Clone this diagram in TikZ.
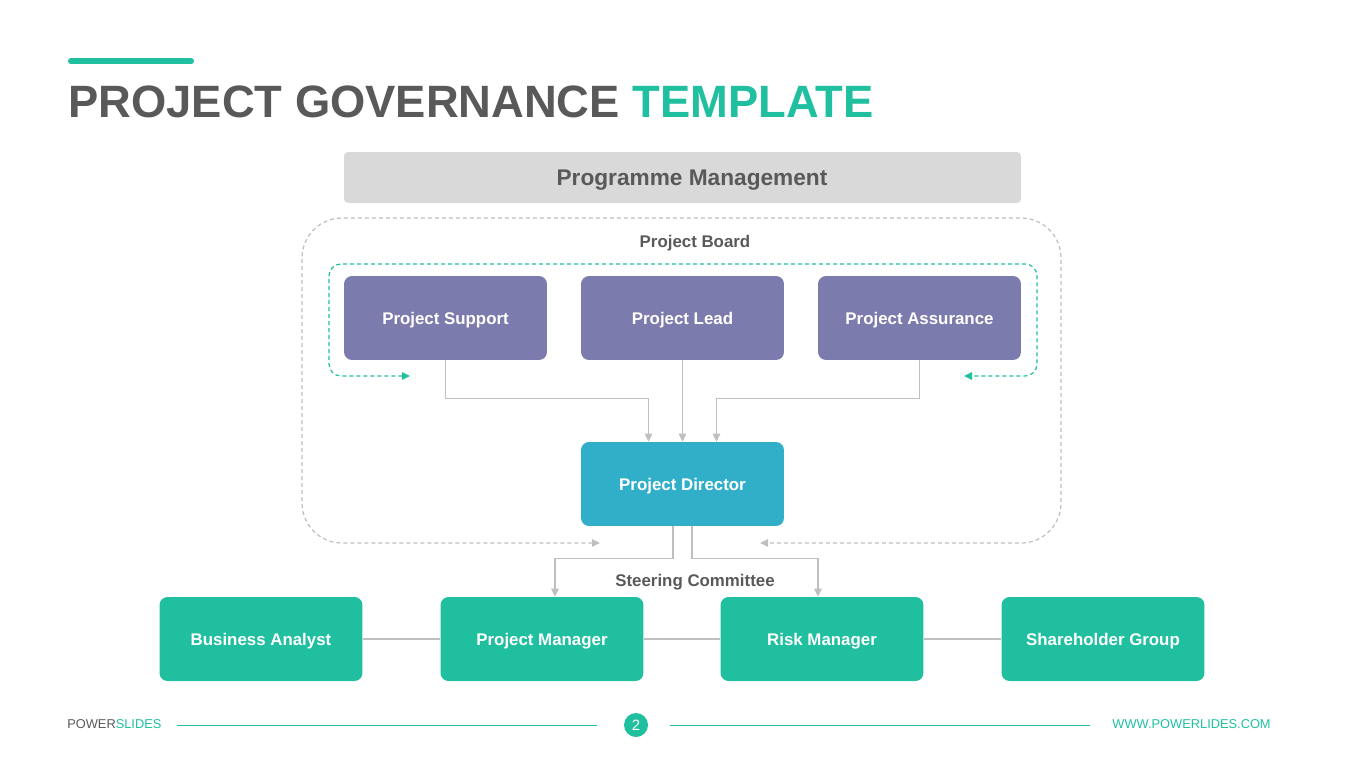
\documentclass[tikz,border=0pt]{standalone}
\usepackage{fontspec}
\setmainfont{Liberation Sans}
\usepackage{xcolor}
\definecolor{pgteal}{RGB}{31,191,160}
\definecolor{pgpurple}{RGB}{123,123,173}
\definecolor{pgblue}{RGB}{49,174,200}
\definecolor{pgdark}{RGB}{89,89,89}
\definecolor{pglight}{RGB}{217,217,217}
\definecolor{pgline}{RGB}{191,191,191}
\usetikzlibrary{arrows.meta,positioning,calc}

\begin{document}
\begin{tikzpicture}[x=0.02cm,y=-0.02cm,
  box/.style={rounded corners=0.16cm,minimum width=4.06cm,minimum height=1.68cm,inner sep=0,text height=0.78em,text depth=0pt,text=white,font=\fontsize{9.6}{11}\selectfont\bfseries},
  role/.style={box,fill=pgpurple},
  member/.style={box,fill=pgteal},
  grouptitle/.style={text=pgdark,font=\fontsize{9.6}{11}\selectfont\bfseries,inner sep=0,text height=0.72em,text depth=0pt},
  link/.style={pgline,line width=0.7pt},
  feed/.style={link,-{Triangle[length=0.16cm,width=0.15cm]}},
  loopline/.style={dash pattern=on 0.08cm off 0.06cm,line width=0.7pt,{Triangle[length=0.16cm,width=0.15cm]}-{Triangle[length=0.16cm,width=0.15cm]}}]
  \useasboundingbox (0,0) rectangle (1365,767);
  % Title
  \draw[pgteal,line width=0.12cm,line cap=round] (71,61) -- (191,61);
  \node[anchor=base west,inner sep=0,font=\fontsize{25.8}{30}\selectfont\bfseries,text=pgdark] (title) at (68,117) {PROJECT GOVERNANCE \textcolor{pgteal}{TEMPLATE}};
  \node[fill=pglight,rounded corners=0.08cm,minimum width=13.54cm,minimum height=1.02cm,inner sep=0] (prog) at (682.5,177.5) {};
  \node[inner sep=0,text height=0.72em,text depth=0pt,text=pgdark,font=\fontsize{12.9}{15}\selectfont\bfseries] (progtext) at (692,179) {Programme Management};
  % Project board
  \draw[loopline,pgline,rounded corners=0.8cm] (600,543) -| (302,218) -| (1061,543) -- (760,543);
  \node[grouptitle] (board) at (695,241) {Project Board};
  \draw[loopline,pgteal,rounded corners=0.24cm] (410,376) -| (329,264) -| (1037,376) -- (964,376);
  \node[role] (sup) at (445.5,318) {Project Support};
  \node[role] (lead) at (682.5,318) {Project Lead};
  \node[role] (asr) at (919.5,318) {Project Assurance};
  \node[box,fill=pgblue] (dir) at (682.5,484) {Project Director};
  \draw[feed] (sup.south) -- ++(0,38) -| ([xshift=-0.68cm]dir.north);
  \draw[feed] (lead.south) -- (dir.north);
  \draw[feed] (asr.south) -- ++(0,38) -| ([xshift=0.68cm]dir.north);
  % Steering committee
  \node[grouptitle] (steer) at (695,580) {Steering Committee};
  \node[member] (ba) at (261,639) {Business Analyst};
  \node[member] (pm) at (542,639) {Project Manager};
  \node[member] (rm) at (822,639) {Risk Manager};
  \node[member] (sh) at (1103,639) {Shareholder Group};
  \draw[feed] ([xshift=-0.19cm]dir.south) -- ++(0,32) -| ([xshift=0.26cm]pm.north);
  \draw[feed] ([xshift=0.19cm]dir.south) -- ++(0,32) -| ([xshift=-0.08cm]rm.north);
  \draw[link] (ba) -- (pm);
  \draw[link] (pm) -- (rm);
  \draw[link] (rm) -- (sh);
  % Footer
  \node[anchor=base west,inner sep=0,font=\fontsize{7.3}{9}\selectfont,text=pgdark] (brand) at (67,728) {POWER\textcolor{pgteal}{SLIDES}};
  \node[circle,fill=pgteal,minimum size=0.48cm,inner sep=0,text=white,font=\fontsize{8.5}{10}\selectfont] (page) at (636,725) {2};
  \node[anchor=base east,inner sep=0,font=\fontsize{7.3}{9}\selectfont,text=pgteal] (web) at (1271,728) {WWW.POWERLIDES.COM};
  \draw[pgteal,line width=0.5pt] ([xshift=0.3cm]brand.east |- page) -- ([xshift=-0.54cm]page.west);
  \draw[pgteal,line width=0.5pt] ([xshift=0.44cm]page.east) -- ([xshift=-0.44cm]web.west |- page);
\end{tikzpicture}
\end{document}
